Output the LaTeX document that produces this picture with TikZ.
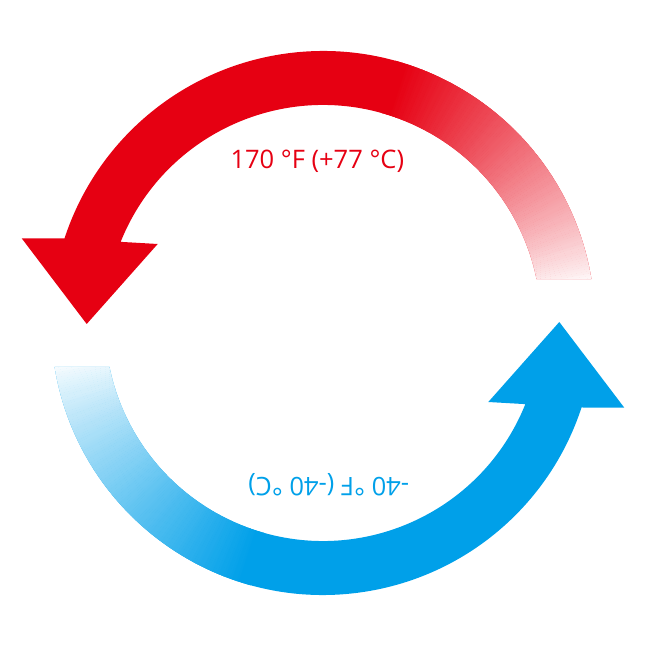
\documentclass[tikz,border=0pt]{standalone}
\usepackage{fontspec}
\newfontfamily\labelfont{Open Sans}
\definecolor{hotred}{HTML}{E60012}
\definecolor{coldblue}{HTML}{00A0E9}
\newcommand\cyclearrow[1]{%
  \begin{scope}
    \clip (591.43,366.95) arc[start angle=9.3,end angle=161.9,radius=272]
      -- (21.7,407.7) -- (86.7,322) -- (157.7,402) -- (120.66,404.14)
      arc[start angle=158.15,end angle=11.6,radius=218] -- cycle;
    \fill[#1] (0,0) rectangle (646,646);
    \begin{scope}[shift={(323,323)}]
      \foreach \a in {7,7.5,...,74}{%
        \pgfmathsetmacro\t{min(1,max(0.001,(\a-9)/63))}%
        \pgfmathtruncatemacro\p{min(100,3+97*(\t^0.85))}%
        \fill[#1!\p!white] (0,0) -- (\a:320) arc[start angle=\a,delta angle=0.6,radius=320] -- cycle;
      }
    \end{scope}
  \end{scope}}
\begin{document}
\begin{tikzpicture}[x=1pt,y=1pt]
  \useasboundingbox (0,0) rectangle (646,646);
  \cyclearrow{hotred}
  \begin{scope}[rotate around={180:(323,323)}]
    \cyclearrow{coldblue}
  \end{scope}
  \tikzset{templabel/.style={font=\labelfont\fontsize{25.5}{30}\selectfont, anchor=base, inner sep=0pt}}
  \node[templabel, text=hotred] (hot) at (317.3,477.7) {170 °F (+77 °C)};
  \node[templabel, text=coldblue, rotate=180] (cold) at (328.7,168.3) {-40 °F (-40 °C)};
\end{tikzpicture}
\end{document}
